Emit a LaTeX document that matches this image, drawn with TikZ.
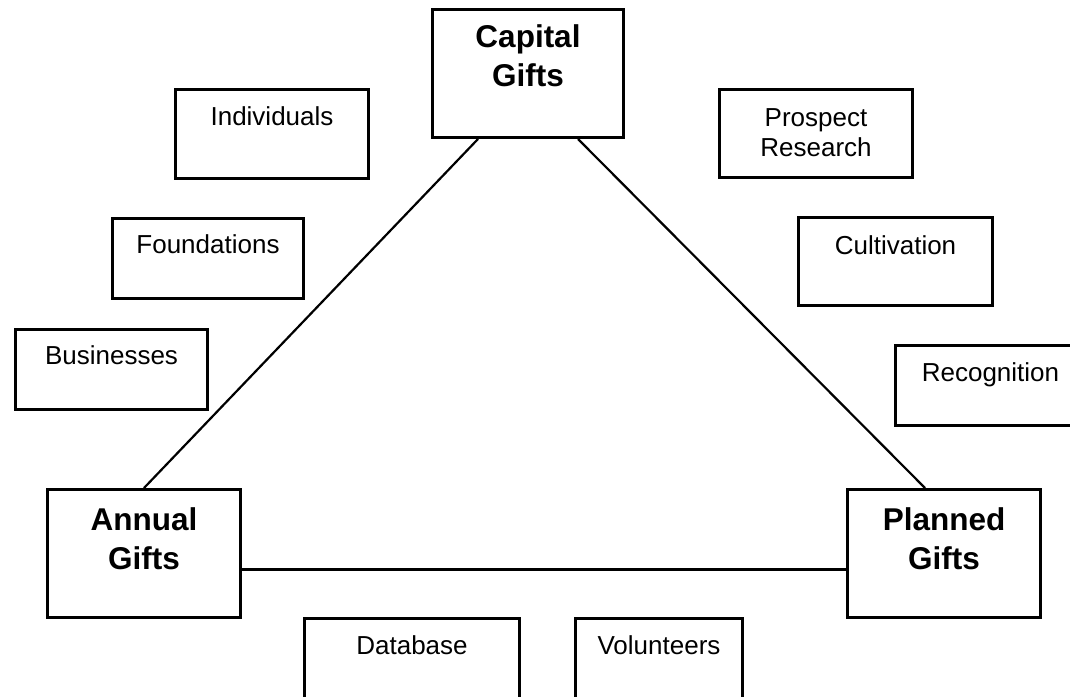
\documentclass[tikz,border=0pt]{standalone}
\usepackage{fontspec}
\setmainfont{Liberation Sans}
\begin{document}
\begin{tikzpicture}[x=1pt,y=-1pt,
  box/.style={draw, line width=3pt, inner sep=0pt, anchor=north west, align=center,
              font=\fontsize{26}{30}\selectfont},
  big/.style={box, font=\fontsize{31.5}{39}\selectfont\bfseries},
  link/.style={line width=2.2pt}]
\useasboundingbox (0,0) rectangle (1070,696);
\clip (0,0) rectangle (1070,696);
\fill[white] (0,0) rectangle (1070,696);
% main boxes
\node[big, text width=191pt, text height=38pt, text depth=90pt] (cap) at (431,8) {Capital\\Gifts};
\node[big, text width=193pt, text height=41pt, text depth=87pt] (ann) at (46,488) {Annual\\Gifts};
\node[big, text width=193pt, text height=41pt, text depth=87pt] (pla) at (846,488) {Planned\\Gifts};
% side boxes
\node[box, text width=193pt, text height=36pt, text depth=53pt] (ind) at (174,88) {Individuals};
\node[box, text width=193pt, text height=37pt, text depth=51pt] (pro) at (718,88) {Prospect\\Research};
\node[box, text width=191pt, text height=35pt, text depth=45pt] (fou) at (111,217) {Foundations};
\node[box, text width=194pt, text height=37pt, text depth=51pt] (cul) at (797,216) {Cultivation};
\node[box, text width=192pt, text height=35pt, text depth=45pt] (bus) at (14,328) {Businesses};
\node[box, text width=190pt, text height=36pt, text depth=44pt] (rec) at (894,344) {Recognition};
\node[box, text width=215pt, text height=36pt, text depth=64pt] (dat) at (303,617) {Database};
\node[box, text width=167pt, text height=36pt, text depth=64pt] (vol) at (574,617) {Volunteers};
% connectors
\draw[link] ([xshift=47pt]cap.south west) -- (ann.north);
\draw[link] ([xshift=-47pt]cap.south east) -- ([xshift=79pt]pla.north west);
\draw[link] ([yshift=-16pt]ann.east) -- ([yshift=-16pt]pla.west);
\end{tikzpicture}
\end{document}
